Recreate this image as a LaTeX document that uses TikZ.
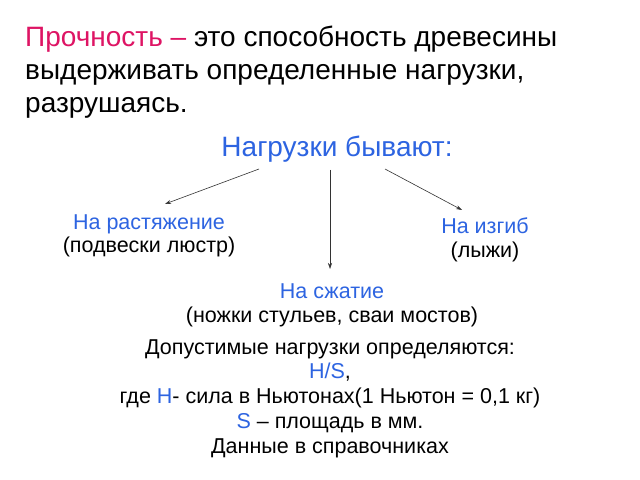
\documentclass[tikz,border=0pt]{standalone}
\usepackage{fontspec}
\setmainfont{Liberation Sans}
\usetikzlibrary{arrows.meta}

\definecolor{pinkred}{RGB}{222,20,100}
\definecolor{loadblue}{RGB}{45,100,225}

\begin{document}
\begin{tikzpicture}[x=1bp,y=-1bp]
\tikzset{
  bigtext/.style={inner sep=0pt, font=\fontsize{28bp}{33bp}\selectfont},
  headtext/.style={inner sep=0pt, font=\fontsize{28bp}{33bp}\selectfont},
  smalltext/.style={inner sep=0pt, align=center, font=\fontsize{21.5bp}{23.5bp}\selectfont},
  loadarrow/.style={-{Stealth[length=6bp,width=4bp]}, draw=black!80, line width=0.6bp}
}
\useasboundingbox[fill=white] (0,0) rectangle (640,480);
% definition
\node[bigtext, anchor=base west, align=left] (strength) at (25,113)
  {\textcolor{pinkred}{Прочность –} это способность древесины\\
   выдерживать определенные нагрузки,\\
   разрушаясь.};
\node[headtext, anchor=base, text=loadblue] (loads) at (337,157) {Нагрузки бывают:};
% kinds of loads
\node[smalltext, anchor=base] (tension) at (149,253)
  {\textcolor{loadblue}{На растяжение}\\(подвески люстр)};
\node[smalltext, anchor=base] (bending) at (485,257)
  {\textcolor{loadblue}{На изгиб}\\(лыжи)};
\node[smalltext, anchor=base] (compress) at (332,322)
  {\textcolor{loadblue}{На сжатие}\\(ножки стульев, сваи мостов)};
% admissible loads
\node[smalltext, anchor=base, font=\fontsize{21.5bp}{24.75bp}\selectfont] (admissible) at (330,453)
  {Допустимые нагрузки определяются:\\
   \textcolor{loadblue}{H/S},\\
   где \textcolor{loadblue}{Н}- сила в Ньютонах(1 Ньютон = 0,1 кг)\\
   \textcolor{loadblue}{S} – площадь в мм.\\
   Данные в справочниках};
% arrows
\coordinate (leftstart) at (259,169);
\coordinate (midstart) at (330,170);
\coordinate (rightstart) at (385,169);
\coordinate (leftend) at (165,204);
\coordinate (midend) at (330,269);
\coordinate (rightend) at (462,210);
\draw[loadarrow] (leftstart) -- (leftend);
\draw[loadarrow] (midstart) -- (midend);
\draw[loadarrow] (rightstart) -- (rightend);
\end{tikzpicture}
\end{document}
